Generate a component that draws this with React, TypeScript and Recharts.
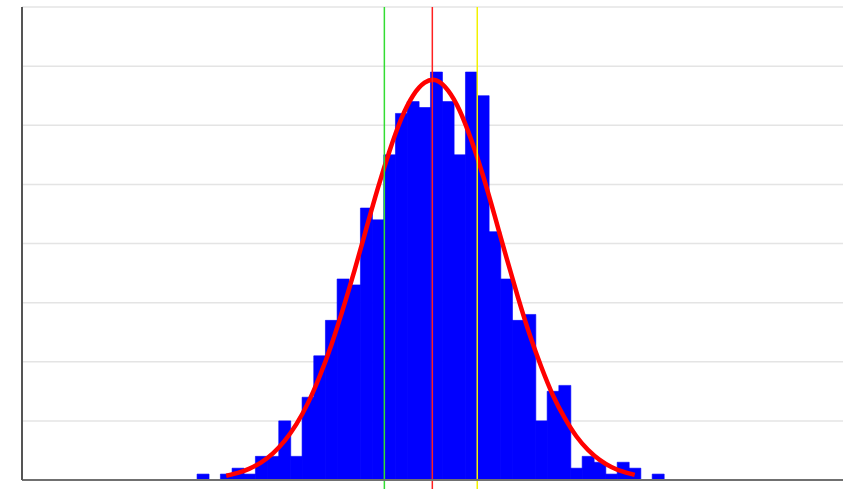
import React from 'react'
import {
  ComposedChart,
  Bar,
  Line,
  XAxis,
  YAxis,
  CartesianGrid,
  ReferenceLine,
} from 'recharts'

// histogram bins (bin index centres) and counts, 1000 samples in total
const binCenters = [
  15.5, 16.5, 17.5, 18.5, 19.5, 20.5, 21.5, 22.5, 23.5, 24.5,
  25.5, 26.5, 27.5, 28.5, 29.5, 30.5, 31.5, 32.5, 33.5, 34.5,
  35.5, 36.5, 37.5, 38.5, 39.5, 40.5, 41.5, 42.5, 43.5, 44.5,
  45.5, 46.5, 47.5, 48.5, 49.5, 50.5, 51.5, 52.5, 53.5, 54.5,
]
const counts = [
  1, 0, 1, 2, 1, 4, 4, 10, 4, 14,
  21, 27, 34, 33, 46, 44, 55, 62, 64, 63,
  69, 64, 55, 69, 65, 42, 34, 27, 28, 10,
  15, 16, 2, 4, 3, 1, 3, 2, 0, 1,
]
// fitted normal curve, read at the same centres (null = not drawn)
const fitted = [
  null, null, 0.73, 1.2, 1.93, 2.99, 4.51, 6.61, 9.4, 13.0,
  17.5, 22.8, 28.9, 35.5, 42.5, 49.4, 55.7, 61.1, 65.0, 67.2,
  67.6, 65.9, 62.5, 57.5, 51.5, 44.7, 37.7, 30.9, 24.6, 19.1,
  14.3, 10.5, 7.4, 5.1, 3.4, 2.2, 1.4, 0.87, null, null,
]
const yTicks = [0, 10, 20, 30, 40, 50, 60, 70, 80]

// marker lines: lower, mean, upper
const lowerMark = 31.05
const meanMark = 35.16
const upperMark = 39.01

const chartData = binCenters.map((x, i) => ({
  x,
  count: counts[i],
  fit: fitted[i],
}))

// no tick labels in the original, but the grid still needs the ticks
const NoTick = () => <g />

export default function App() {
  return (
    <div style={{ position: 'absolute', left: 0, top: 0, background: '#fff' }}>
      <ComposedChart
        width={856}
        height={489}
        data={chartData}
        margin={{ top: 7, right: 13, bottom: 8, left: 21 }}
        barCategoryGap={0}
        barGap={0}
      >
        <CartesianGrid vertical={false} stroke="#e4e4e4" strokeWidth={1.5} />
        <XAxis
          type="number"
          dataKey="x"
          domain={[0, 70.35]}
          allowDataOverflow
          tick={false}
          tickLine={false}
          height={1}
          axisLine={{ stroke: '#707070', strokeWidth: 2 }}
        />
        <YAxis
          domain={[0, 80]}
          ticks={yTicks}
          interval={0}
          allowDataOverflow
          tick={NoTick}
          tickLine={false}
          width={1}
          axisLine={{ stroke: '#555555', strokeWidth: 2 }}
        />
        <Bar
          dataKey="count"
          fill="#0000ff"
          stroke="#0000ff"
          strokeWidth={0.6}
          isAnimationActive={false}
        />
        <Line
          dataKey="fit"
          type="natural"
          stroke="#ff0000"
          strokeWidth={4.5}
          dot={false}
          activeDot={false}
          isAnimationActive={false}
        />
        <ReferenceLine
          segment={[{ x: lowerMark, y: -2 }, { x: lowerMark, y: 80 }]}
          ifOverflow="visible"
          stroke="#33dd33"
          strokeWidth={1.5}
        />
        <ReferenceLine
          segment={[{ x: meanMark, y: -2 }, { x: meanMark, y: 80 }]}
          ifOverflow="visible"
          stroke="#ff2020"
          strokeWidth={1.5}
        />
        <ReferenceLine
          segment={[{ x: upperMark, y: -2 }, { x: upperMark, y: 80 }]}
          ifOverflow="visible"
          stroke="#f2f200"
          strokeWidth={1.5}
        />
      </ComposedChart>
    </div>
  )
}
